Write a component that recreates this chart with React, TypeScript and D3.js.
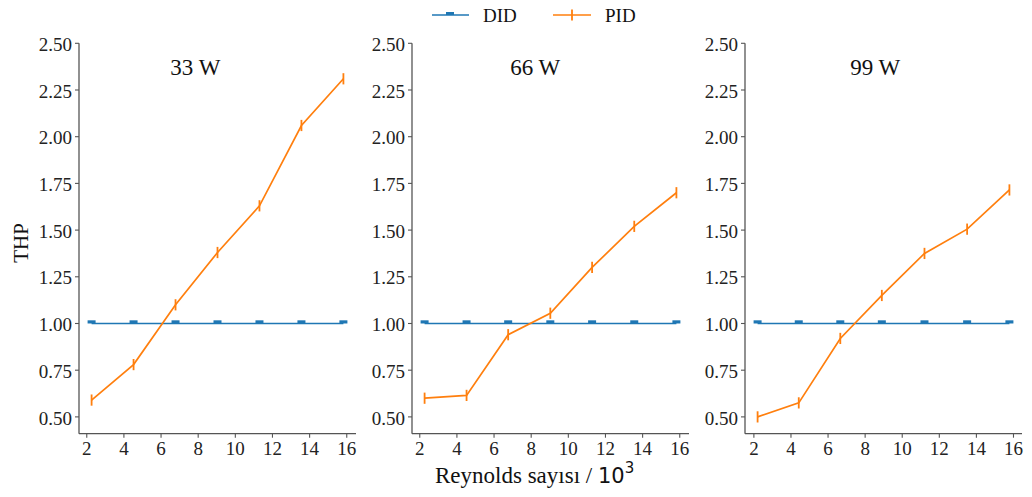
import React from "react";
import * as d3 from "d3";

// Reynolds number (x 10^3) for each heat load
const reynolds33 = [2.26, 4.52, 6.78, 9.04, 11.3, 13.56, 15.82];
const reynolds66 = [2.26, 4.52, 6.76, 9.03, 11.28, 13.55, 15.82];
const reynolds99 = [2.2, 4.42, 6.66, 8.9, 11.2, 13.5, 15.78];

const panelTitles = ["33 W", "66 W", "99 W"];

// THP values
const did33 = [1, 1, 1, 1, 1, 1, 1];
const did66 = [1, 1, 1, 1, 1, 1, 1];
const did99 = [1, 1, 1, 1, 1, 1, 1];
const pid33 = [0.59, 0.78, 1.1, 1.38, 1.63, 2.06, 2.31];
const pid66 = [0.6, 0.615, 0.94, 1.055, 1.3, 1.52, 1.7];
const pid99 = [0.5, 0.575, 0.92, 1.15, 1.375, 1.505, 1.715];
const didErr = [0.017, 0.017, 0.017, 0.017, 0.017, 0.017, 0.017];
const pidErr = [0.03, 0.03, 0.03, 0.03, 0.03, 0.03, 0.03];

const yTicks = [0.5, 0.75, 1.0, 1.25, 1.5, 1.75, 2.0, 2.25, 2.5];
const xTicks = [2, 4, 6, 8, 10, 12, 14, 16];

const panels = [
  { title: panelTitles[0], x: reynolds33, did: did33, pid: pid33 },
  { title: panelTitles[1], x: reynolds66, did: did66, pid: pid66 },
  { title: panelTitles[2], x: reynolds99, did: did99, pid: pid99 },
];

const BLUE = "#1f77b4";
const ORANGE = "#ff7f0e";
const SPINE = "#555";
const serif = "'Liberation Serif', 'DejaVu Serif', serif";

const panelLeft = [79, 412, 745];
const panelWidth = 277;
const top = 43.3;
const bottom = 433.7;
const titleOffset = [0.42, 0.445, 0.47];

const Panel = ({ p, i }) => {
  const left = panelLeft[i];
  const [lo, hi] = d3.extent(p.x);
  const pad = (hi - lo) * 0.05;
  const x = d3.scaleLinear().domain([lo - pad, hi + pad]).range([left, left + panelWidth]);
  const y = d3.scaleLinear().domain([0.41, 2.5]).range([bottom, top]);

  const line = d3
    .line()
    .x((d) => x(d[0]))
    .y((d) => y(d[1]));

  const didPts = p.x.map((v, k) => [v, p.did[k]]);
  const pidPts = p.x.map((v, k) => [v, p.pid[k]]);

  return (
    <g>
      {/* y axis */}
      <line x1={left} x2={left} y1={top} y2={bottom} stroke={SPINE} strokeWidth={1.3} />
      {yTicks.map((t) => (
        <g key={t}>
          <line x1={left - 4} x2={left} y1={y(t)} y2={y(t)} stroke={SPINE} strokeWidth={1.1} />
          <text
            x={left - 7}
            y={y(t) + 1}
            dy="0.35em"
            textAnchor="end"
            fontFamily={serif}
            fontSize={19}
            fill="#222"
          >
            {t.toFixed(2)}
          </text>
        </g>
      ))}
      {/* x axis */}
      <line x1={left} x2={left + panelWidth} y1={bottom} y2={bottom} stroke={SPINE} strokeWidth={1.3} />
      {xTicks.map((t) => (
        <g key={t}>
          <line x1={x(t)} x2={x(t)} y1={bottom} y2={bottom + 4} stroke={SPINE} strokeWidth={1.1} />
          <text x={x(t)} y={455} textAnchor="middle" fontFamily={serif} fontSize={19} fill="#222">
            {t}
          </text>
        </g>
      ))}

      {/* DID */}
      <path d={line(didPts)} fill="none" stroke={BLUE} strokeWidth={1.7} />
      {didPts.map((d, k) => (
        <rect
          key={k}
          x={x(d[0]) - 4}
          y={y(d[1] + didErr[k])}
          width={8}
          height={y(d[1]) - y(d[1] + didErr[k])}
          fill={BLUE}
        />
      ))}

      {/* PID */}
      <path d={line(pidPts)} fill="none" stroke={ORANGE} strokeWidth={1.7} />
      {pidPts.map((d, k) => (
        <line
          key={k}
          x1={x(d[0])}
          x2={x(d[0])}
          y1={y(d[1] - pidErr[k])}
          y2={y(d[1] + pidErr[k])}
          stroke={ORANGE}
          strokeWidth={1.8}
        />
      ))}

      <text
        x={left + panelWidth * titleOffset[i]}
        y={75}
        textAnchor="middle"
        fontFamily={serif}
        fontSize={23}
        fill="#111"
      >
        {p.title}
      </text>
    </g>
  );
};

export default function App() {
  return (
    <div style={{ position: "absolute", left: 0, top: 0 }}>
      <svg width={1032} height={497} style={{ display: "block", background: "#fff" }}>
        {panels.map((p, i) => (
          <Panel key={i} p={p} i={i} />
        ))}

        {/* legend */}
        <line x1={432} x2={469} y1={15} y2={15} stroke={BLUE} strokeWidth={1.7} />
        <rect x={446} y={12} width={8} height={3} fill={BLUE} />
        <text x={483} y={22} fontFamily={serif} fontSize={19} fill="#111">
          DID
        </text>
        <line x1={553} x2={591} y1={15} y2={15} stroke={ORANGE} strokeWidth={1.7} />
        <line x1={572} x2={572} y1={9.5} y2={20.5} stroke={ORANGE} strokeWidth={1.8} />
        <text x={605} y={22} fontFamily={serif} fontSize={19} fill="#111">
          PID
        </text>

        {/* axis labels */}
        <text
          transform="translate(28,243) rotate(-90)"
          textAnchor="middle"
          fontFamily={serif}
          fontSize={21}
          fill="#111"
        >
          THP
        </text>
        <text x={435} y={483} fontFamily={serif} fontSize={23} fill="#111">
          Reynolds sayısı /{" "}
          <tspan fontFamily="'DejaVu Sans', sans-serif" fontSize={21}>
            10
          </tspan>
          <tspan fontFamily="'DejaVu Sans', sans-serif" fontSize={15} dy={-10}>
            3
          </tspan>
        </text>
      </svg>
    </div>
  );
}
